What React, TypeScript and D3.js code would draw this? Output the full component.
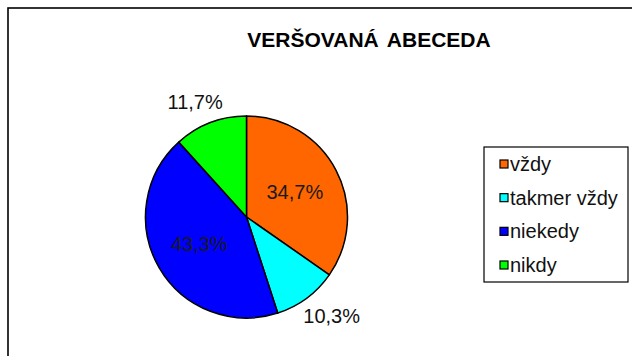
import React from "react";
import * as d3 from "d3";

const title = "VERŠOVANÁ ABECEDA";
const categories = ["vždy", "takmer vždy", "niekedy", "nikdy"];
const shares = [34.7, 10.3, 43.3, 11.7];
const colors = ["#FF6600", "#00FFFF", "#0000FF", "#00FF00"];

const W = 632;
const H = 356;
const cx = 246.5;
const cy = 217;
const R = 101;

const fmt = (v: number) => v.toFixed(1).replace(".", ",") + "%";

export default function App() {
  const pie = d3
    .pie<number>()
    .value((d) => d)
    .sort(null)
    .startAngle(0)
    .endAngle(2 * Math.PI);
  const arcs = pie(shares);
  const arc = d3.arc<d3.PieArcDatum<number>>().innerRadius(0).outerRadius(R);
  const innerLabelArc = d3
    .arc<d3.PieArcDatum<number>>()
    .innerRadius(R * 1.08)
    .outerRadius(0);

  // outside labels: anchor just beyond the rim, then push the label box outward
  const labelW = 56;
  const labelH = 16;
  const outsidePos = (a: d3.PieArcDatum<number>): [number, number] => {
    const mid = (a.startAngle + a.endAngle) / 2;
    const s = Math.sin(mid);
    const c = Math.cos(mid);
    const r = R + 14;
    return [r * s + (labelW / 2) * s, -r * c - (labelH / 2) * c];
  };

  const legendY = d3
    .scalePoint<string>()
    .domain(categories)
    .range([164, 265]);

  const font = "'Liberation Sans', Arial, sans-serif";

  return (
    <svg
      width={W}
      height={H}
      style={{ position: "fixed", left: 0, top: 0, background: "#fff" }}
      fontFamily={font}
    >
      <rect x={0} y={0} width={W} height={H} fill="#fff" />
      {/* chart frame, running past the right and bottom edges */}
      <rect
        x={8}
        y={8}
        width={W + 20}
        height={H + 20}
        fill="#fff"
        stroke="#000"
        strokeWidth={1.6}
      />
      <text
        x={369}
        y={47}
        textAnchor="middle"
        fontSize={21}
        fontWeight="bold"
        wordSpacing={3}
        fill="#000"
      >
        {title}
      </text>

      <g transform={`translate(${cx},${cy})`}>
        {arcs.map((a, i) => (
          <path
            key={categories[i]}
            d={arc(a) ?? ""}
            fill={colors[i]}
            stroke="#000"
            strokeWidth={1.5}
            strokeLinejoin="round"
          />
        ))}
        {arcs.map((a, i) => {
          const outside = a.data < 20;
          const [lx, ly] = outside ? outsidePos(a) : innerLabelArc.centroid(a);
          return (
            <text
              key={"l" + categories[i]}
              x={lx}
              y={ly}
              textAnchor="middle"
              dominantBaseline="central"
              fontSize={20}
              fill={outside ? "#111" : "#1a1a1a"}
            >
              {fmt(a.data)}
            </text>
          );
        })}
      </g>

      {/* legend */}
      <rect
        x={484}
        y={147}
        width={144}
        height={135}
        fill="#fff"
        stroke="#000"
        strokeWidth={1.2}
      />
      {categories.map((c, i) => {
        const y = legendY(c) ?? 0;
        return (
          <g key={"lg" + c}>
            <rect
              x={500}
              y={y - 4}
              width={8}
              height={8}
              fill={colors[i]}
              stroke="#000"
              strokeWidth={1.2}
            />
            <text
              x={510}
              y={y}
              dominantBaseline="central"
              fontSize={20}
              fill="#111"
            >
              {c}
            </text>
          </g>
        );
      })}
    </svg>
  );
}
